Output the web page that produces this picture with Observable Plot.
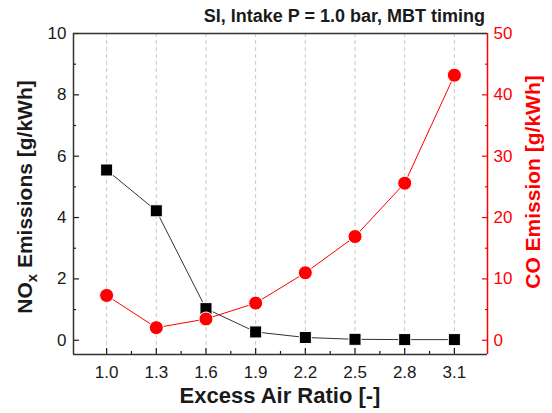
<!DOCTYPE html>
<html><head><meta charset="utf-8">
<script src="https://cdn.jsdelivr.net/npm/d3@7"></script>
<script src="https://cdn.jsdelivr.net/npm/@observablehq/plot@0.6"></script>
<style>
body{margin:0;background:#fff;}
svg{font-family:"Liberation Sans",Arial,sans-serif;}
</style>
</head><body><div id="chart"></div>
<script>
// ---- data ----
const airRatio = [1.0, 1.3, 1.6, 1.9, 2.2, 2.5, 2.8, 3.1];
const noxValues = [5.55, 4.22, 1.03, 0.27, 0.09, 0.03, 0.02, 0.02];
const coValues = [7.3, 2.05, 3.46, 6.05, 11.0, 16.9, 25.6, 43.2];
const xTicks = [1.0, 1.3, 1.6, 1.9, 2.2, 2.5, 2.8, 3.1];
const xMinorTicks = [1.15, 1.45, 1.75, 2.05, 2.35, 2.65, 2.95];
const noxTicks = [0, 2, 4, 6, 8, 10];
const noxMinorTicks = [1, 3, 5, 7, 9];
const coTicks = [0, 10, 20, 30, 40, 50];
const coMinorTicks = [5, 15, 25, 35, 45];
const xDomain = [0.8, 3.3];
const noxDomain = [-0.465, 10];
const coPerNox = 5; // right axis is 5x left axis
const titleText = "SI, Intake P = 1.0 bar, MBT timing";
const xLabel = "Excess Air Ratio [-]";
const coLabel = "CO Emission [g/kWh]";

const rows = airRatio.map((x, i) => ({x, nox: noxValues[i], co: coValues[i]}));
const fmt1 = d3.format(".1f");

const chart = Plot.plot({
  width: 552, height: 413,
  marginLeft: 73, marginRight: 65, marginTop: 33, marginBottom: 59,
  style: {fontFamily: '"Liberation Sans", Arial, sans-serif', fontSize: "17px", color: "#1a1a1a", background: "#fff"},
  x: {domain: xDomain},
  y: {domain: noxDomain},
  marks: [
    Plot.ruleX(xTicks, {stroke: "#c8c8c8", strokeDasharray: "4,3", strokeWidth: 1}),
    // x axis
    Plot.axisX({ticks: xTicks, tickFormat: fmt1, tickSize: -6, tickPadding: 17, label: null, fontSize: 17, strokeWidth: 1.2}),
    Plot.axisX({ticks: xMinorTicks, tickFormat: () => "", tickSize: -3, label: null, strokeWidth: 1.2}),
    // left axis
    Plot.axisY({anchor: "left", ticks: noxTicks, tickSize: -6, tickPadding: 13, label: null, fontSize: 17, strokeWidth: 1.2}),
    Plot.axisY({anchor: "left", ticks: noxMinorTicks, tickFormat: () => "", tickSize: -3, label: null, strokeWidth: 1.2}),
    // right axis (CO)
    Plot.axisY({anchor: "right", ticks: coTicks.map(v => v / coPerNox), tickFormat: d => Math.round(d * coPerNox), tickSize: -6, tickPadding: 12, label: null, fontSize: 17, color: "red", strokeWidth: 1.2}),
    Plot.axisY({anchor: "right", ticks: coMinorTicks.map(v => v / coPerNox), tickFormat: () => "", tickSize: -3, label: null, color: "red", strokeWidth: 1.2}),
    // frame
    Plot.ruleX([xDomain[0]], {stroke: "#333", strokeWidth: 1.5}),
    Plot.ruleY([noxDomain[0]], {stroke: "#333", strokeWidth: 1.5}),
    Plot.ruleY([noxDomain[1]], {stroke: "#333", strokeWidth: 1.5}),
    Plot.ruleX([xDomain[1]], {stroke: "red", strokeWidth: 1.5}),
    // series
    Plot.line(rows, {x: "x", y: "nox", stroke: "#333", strokeWidth: 1}),
    Plot.line(rows, {x: "x", y: d => d.co / coPerNox, stroke: "red", strokeWidth: 1}),
    Plot.dot(rows, {x: "x", y: "nox", symbol: "square", r: 6.8, fill: "black", stroke: "white", strokeWidth: 1}),
    Plot.dot(rows, {x: "x", y: d => d.co / coPerNox, symbol: "circle", r: 7, fill: "red", stroke: "white", strokeWidth: 1})
  ]
});

const svg = d3.select(chart);
svg.append("text")
  .attr("x", 485).attr("y", 22).attr("text-anchor", "end")
  .attr("font-weight", "bold").attr("font-size", 18).attr("fill", "#1a1a1a")
  .text(titleText);
svg.append("text")
  .attr("x", 280).attr("y", 403).attr("text-anchor", "middle")
  .attr("font-weight", "bold").attr("font-size", 22).attr("fill", "#1a1a1a")
  .text(xLabel);
const yl = svg.append("text")
  .attr("transform", "translate(32,197) rotate(-90)").attr("text-anchor", "middle")
  .attr("font-weight", "bold").attr("font-size", 21).attr("fill", "#1a1a1a");
yl.append("tspan").text("NO");
yl.append("tspan").attr("font-size", 15).attr("dy", 5).text("x");
yl.append("tspan").attr("dy", -5).text(" Emissions [g/kWh]");
svg.append("text")
  .attr("transform", "translate(540,182) rotate(-90)").attr("text-anchor", "middle")
  .attr("font-weight", "bold").attr("font-size", 21).attr("fill", "red")
  .text(coLabel);

document.getElementById("chart").appendChild(chart);
</script>
</body></html>
